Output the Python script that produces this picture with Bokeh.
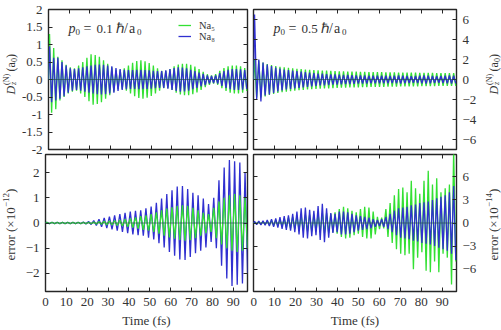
import numpy as np
from bokeh.plotting import figure
from bokeh.models import Range1d, LinearAxis, FixedTicker, Label, Span, Legend, LegendItem, ColumnDataSource
from bokeh.layouts import column, row
from bokeh.embed import file_html
from bokeh.resources import INLINE

# ---------------- data ----------------
x_ticks = [0, 10, 20, 30, 40, 50, 60, 70, 80, 90]
x_tick_labels = ["0", "10", "20", "30", "40", "50", "60", "70", "80", "90"]
x_limits = (0, 96.8)

tl_y_ticks = [2, 1.5, 1, 0.5, 0, -0.5, -1, -1.5, -2]
tl_y_labels = ["2", "1.5", "1", "0.5", "0", "-0.5", "-1", "-1.5", "-2"]
tr_y_ticks = [6, 4, 2, 0, -2, -4, -6]
tr_y_labels = ["6", "4", "2", "0", "\u22122", "\u22124", "\u22126"]
bl_y_ticks = [2, 1, 0, -1, -2]
bl_y_labels = ["2", "1", "0", "\u22121", "\u22122"]
br_y_ticks = [6, 3, 0, -3, -6]
br_y_labels = ["6", "3", "0", "\u22123", "\u22126"]

series_names = ["Na\u2085", "Na\u2088"]
p0_values = ["0.1", "0.5"]

# oscillation period of each panel (fs); one positive peak + one trough per period
tl_period = 2.02
tr_period = 2.02
bl_period = 2.5
br_period = 2.02

# top-left, D_z (a0), p0 = 0.1: peak heights / trough depths per period
tl_na5_pos = [1.30, 0.90, 0.65, 0.55, 0.42, 0.35, 0.32, 0.40, 0.50, 0.62, 0.72, 0.70,
              0.65, 0.55, 0.45, 0.35, 0.28, 0.28, 0.32, 0.40, 0.48, 0.53, 0.55, 0.52,
              0.47, 0.40, 0.32, 0.25, 0.25, 0.30, 0.38, 0.43, 0.45, 0.45, 0.42, 0.37,
              0.30, 0.22, 0.15, 0.12, 0.15, 0.25, 0.33, 0.38, 0.40, 0.40, 0.38, 0.33]
tl_na5_neg = [0.95, 0.85, 0.60, 0.50, 0.40, 0.35, 0.32, 0.40, 0.50, 0.62, 0.72, 0.70,
              0.65, 0.55, 0.45, 0.35, 0.28, 0.28, 0.32, 0.40, 0.48, 0.53, 0.55, 0.52,
              0.47, 0.40, 0.32, 0.25, 0.25, 0.30, 0.38, 0.43, 0.45, 0.45, 0.42, 0.37,
              0.30, 0.22, 0.15, 0.12, 0.15, 0.25, 0.33, 0.38, 0.40, 0.40, 0.38, 0.33]
tl_na8_pos = [0.95, 0.62, 0.62, 0.50, 0.40, 0.32, 0.30, 0.32, 0.35, 0.38, 0.40, 0.42,
              0.43, 0.42, 0.40, 0.38, 0.33, 0.30, 0.28, 0.27, 0.27, 0.28, 0.28, 0.27,
              0.26, 0.25, 0.24, 0.24, 0.26, 0.30, 0.33, 0.35, 0.34, 0.32, 0.28, 0.24,
              0.20, 0.16, 0.12, 0.10, 0.12, 0.18, 0.24, 0.28, 0.30, 0.30, 0.29, 0.27]
tl_na8_neg = [0.65, 0.60, 0.55, 0.48, 0.38, 0.32, 0.30, 0.32, 0.35, 0.38, 0.40, 0.42,
              0.43, 0.42, 0.40, 0.38, 0.33, 0.30, 0.28, 0.27, 0.27, 0.28, 0.28, 0.27,
              0.26, 0.25, 0.24, 0.24, 0.26, 0.30, 0.33, 0.35, 0.34, 0.32, 0.28, 0.24,
              0.20, 0.16, 0.12, 0.10, 0.12, 0.18, 0.24, 0.28, 0.30, 0.30, 0.29, 0.27]

# top-right, D_z (a0), p0 = 0.5
tr_na5_pos = [2.00, 1.90, 1.70, 1.55, 1.45, 1.35, 1.28, 1.22, 1.17, 1.12, 1.08, 1.04,
              1.00, 0.97, 0.94, 0.92, 0.90, 0.88, 0.86, 0.84, 0.82, 0.81, 0.80, 0.79,
              0.78, 0.77, 0.76, 0.75, 0.74, 0.74, 0.73, 0.72, 0.72, 0.71, 0.70, 0.70,
              0.69, 0.68, 0.68, 0.67, 0.67, 0.66, 0.66, 0.65, 0.65, 0.64, 0.64, 0.63]
tr_na5_neg = [1.80, 1.80, 1.70, 1.55, 1.45, 1.35, 1.28, 1.22, 1.17, 1.12, 1.08, 1.04,
              1.00, 0.97, 0.94, 0.92, 0.90, 0.88, 0.86, 0.84, 0.82, 0.81, 0.80, 0.79,
              0.78, 0.77, 0.76, 0.75, 0.74, 0.74, 0.73, 0.72, 0.72, 0.71, 0.70, 0.70,
              0.69, 0.68, 0.68, 0.67, 0.67, 0.66, 0.66, 0.65, 0.65, 0.64, 0.64, 0.63]
tr_na8_pos = [6.50, 2.00, 1.70, 1.50, 1.35, 1.20, 1.10, 1.00, 0.95, 0.90, 0.85, 0.80,
              0.75, 0.70, 0.65, 0.60, 0.58, 0.55, 0.52, 0.50, 0.48, 0.46, 0.45, 0.44,
              0.42, 0.40, 0.40, 0.39, 0.38, 0.38, 0.37, 0.37, 0.36, 0.38, 0.40, 0.38,
              0.35, 0.33, 0.35, 0.38, 0.40, 0.38, 0.35, 0.33, 0.35, 0.38, 0.40, 0.38]
tr_na8_neg = [2.00, 2.20, 1.60, 1.50, 1.35, 1.20, 1.10, 1.00, 0.95, 0.90, 0.85, 0.80,
              0.75, 0.70, 0.65, 0.60, 0.58, 0.55, 0.52, 0.50, 0.48, 0.46, 0.45, 0.44,
              0.42, 0.40, 0.40, 0.39, 0.38, 0.38, 0.37, 0.37, 0.36, 0.38, 0.40, 0.38,
              0.35, 0.33, 0.35, 0.38, 0.40, 0.38, 0.35, 0.33, 0.35, 0.38, 0.40, 0.38]

# bottom-left, error (x1e-12), p0 = 0.1 (symmetric envelope)
bl_na5_amp = [0.03, 0.03, 0.03, 0.03, 0.03, 0.03, 0.03, 0.03, 0.03, 0.04, 0.05, 0.07,
              0.08, 0.10, 0.12, 0.15, 0.18, 0.22, 0.27, 0.30, 0.35, 0.42, 0.50, 0.57,
              0.62, 0.67, 0.70, 0.68, 0.60, 0.50, 0.40, 0.35, 0.60, 0.85, 1.00, 1.10,
              1.15, 1.10, 1.00]
bl_na8_amp = [0.03, 0.03, 0.03, 0.03, 0.03, 0.03, 0.03, 0.04, 0.06, 0.10, 0.15, 0.20,
              0.25, 0.30, 0.35, 0.40, 0.45, 0.48, 0.50, 0.58, 0.65, 0.80, 0.97, 1.15,
              1.30, 1.45, 1.47, 1.35, 1.20, 1.10, 0.97, 0.75, 1.00, 1.70, 2.20, 2.50,
              2.45, 2.40, 2.00]

# bottom-right, error (x1e-14), p0 = 0.5
br_na5_pos = [0.10, 0.15, 0.20, 0.30, 0.35, 0.40, 0.50, 0.60, 0.70, 0.80, 0.90, 1.00,
              1.10, 1.10, 1.10, 1.20, 1.30, 1.30, 1.20, 1.40, 1.80, 2.10, 1.90, 1.60,
              1.40, 1.80, 2.10, 2.00, 1.50, 0.80, 0.70, 1.80, 2.60, 3.60, 4.40, 4.60,
              4.00, 5.50, 4.50, 3.80, 5.50, 6.80, 5.00, 5.80, 4.00, 4.50, 5.00, 9.50]
br_na5_neg = [0.10, 0.15, 0.20, 0.30, 0.35, 0.40, 0.50, 0.60, 0.70, 0.80, 0.90, 1.00,
              1.10, 1.10, 1.10, 1.20, 1.30, 1.30, 1.20, 1.40, 1.80, 2.00, 1.90, 1.60,
              1.40, 1.80, 2.00, 2.00, 1.50, 0.80, 0.70, 1.80, 2.60, 3.40, 4.00, 4.20,
              4.00, 6.00, 4.50, 3.80, 6.20, 6.40, 5.00, 6.40, 4.00, 4.50, 8.00, 5.00]
br_na8_amp = [0.20, 0.25, 0.30, 0.40, 0.50, 0.60, 0.75, 0.90, 1.00, 1.20, 1.50, 1.90,
              2.00, 1.70, 1.60, 2.20, 2.50, 1.90, 1.30, 1.20, 1.50, 1.50, 1.40, 1.20,
              1.00, 0.90, 0.80, 0.70, 0.50, 0.40, 0.50, 0.80, 1.20, 1.60, 1.90, 2.00,
              2.10, 2.30, 2.40, 2.60, 2.70, 2.80, 3.00, 3.20, 3.40, 3.60, 4.00, 4.80]

# ---------------- styling ----------------
GREEN = "#33e033"
BLUE = "#3030d0"
ZERO = "#1d4a4a"
FRAME = "#262626"
TXT = "#333333"
SERIF = "Liberation Serif"
TICK_FS = "13px"


def build_series(period, pos, neg):
    t, y = [0.0], [0.0]
    for i, (a, b) in enumerate(zip(pos, neg)):
        t += [i * period + 0.25 * period, i * period + 0.75 * period]
        y += [a, -b]
    return ColumnDataSource(dict(t=t, y=y))


def make_panel(width, height, borders, ylim):
    left, right, top, bottom = borders
    p = figure(width=width, height=height, x_range=Range1d(*x_limits), y_range=Range1d(*ylim),
               output_backend="svg", toolbar_location=None, x_axis_location=None,
               y_axis_location=None, min_border_left=left, min_border_right=right,
               min_border_top=top, min_border_bottom=bottom)
    p.xgrid.grid_line_color = None
    p.ygrid.grid_line_color = None
    p.outline_line_color = FRAME
    p.outline_line_width = 1.4
    p.background_fill_color = "white"
    p.border_fill_color = "white"
    return p


def add_axis(p, side, ticks, labels=None, fixed=None):
    ax = LinearAxis(ticker=FixedTicker(ticks=ticks), axis_line_color=None,
                    major_tick_in=4, major_tick_out=0, major_tick_line_color=FRAME,
                    major_tick_line_width=1, minor_tick_line_color=None)
    if labels is not None:
        ax.major_label_overrides = {t: l for t, l in zip(ticks, labels)}
        ax.major_label_text_font = SERIF
        ax.major_label_text_font_size = TICK_FS
        ax.major_label_text_color = TXT
        ax.major_label_standoff = 6
    else:
        ax.fixed_location = fixed
        ax.major_label_text_color = None
        ax.major_label_standoff = 0
    p.add_layout(ax, side)
    return ax


def lab(p, x, y, text, size, italic=False, angle=0.0, align="left", baseline="alphabetic"):
    p.add_layout(Label(x=x, y=y, x_units="screen", y_units="screen", text=text,
                       text_font=SERIF, text_font_size=size, text_color=TXT,
                       text_font_style="italic" if italic else "normal", angle=angle,
                       text_align=align, text_baseline=baseline))


def d_title(p, x, y0):
    a = np.pi / 2
    lab(p, x, y0, "D", "12px", True, a, "left", "middle")
    lab(p, x + 3, y0 + 9.5, "z", "8px", True, a, "left", "middle")
    lab(p, x - 4.5, y0 + 9.5, "(N)", "8px", False, a, "left", "middle")
    lab(p, x, y0 + 23, "(a", "12px", False, a, "left", "middle")
    lab(p, x + 3, y0 + 32.5, "0", "8px", False, a, "left", "middle")
    lab(p, x, y0 + 36.5, ")", "12px", False, a, "left", "middle")


def err_title(p, x, y0, expo):
    a = np.pi / 2
    lab(p, x, y0, "error (\u00d710", "13px", False, a, "left", "middle")
    lab(p, x - 4.5, y0 + 53.5, expo, "9px", False, a, "left", "middle")
    lab(p, x, y0 + 67.5, ")", "13px", False, a, "left", "middle")


def p0_label(p, val, base):
    lab(p, 20, base, "p", "14px", True)
    lab(p, 27, base - 3, "0", "9px")
    lab(p, 35, base, "=", "14px")
    lab(p, 48, base, val, "13px")
    lab(p, 67.5, base, "\u210f", "14px")
    lab(p, 75.5, base, "/", "14px")
    lab(p, 80.5, base, "a", "14px")
    lab(p, 88.5, base - 3, "0", "9px")


def zero_line(p):
    p.add_layout(Span(location=0, dimension="width", line_color=ZERO, line_width=0.8, line_alpha=0.8))


def title_strip():
    s = figure(width=18, height=330, x_range=Range1d(0, 1), y_range=Range1d(0, 1),
               output_backend="svg", toolbar_location=None, x_axis_location=None,
               y_axis_location=None, min_border=0)
    s.xgrid.grid_line_color = None
    s.ygrid.grid_line_color = None
    s.outline_line_color = None
    return s


# ---------------- panels ----------------
# top row is 4px taller than its frames need; the bottom row is pulled up over that margin
tl = make_panel(232, 157, (27, 3, 9, 8), (-2, 2))
tr = make_panel(233, 157, (3, 27, 9, 8), (-7, 7))
bl = make_panel(232, 177, (27, 3, 1, 34), (-2.72, 2.72))
br = make_panel(233, 177, (3, 27, 1, 34), (-8.9, 8.9))
bl.border_fill_alpha = 0
br.border_fill_alpha = 0

# top-left
add_axis(tl, "left", tl_y_ticks, tl_y_labels)
add_axis(tl, "right", tl_y_ticks, fixed=x_limits[1])
add_axis(tl, "below", x_ticks, fixed=-2)
add_axis(tl, "above", x_ticks, fixed=2)
g = tl.line("t", "y", source=build_series(tl_period, tl_na5_pos, tl_na5_neg), line_color=GREEN, line_width=1.3)
b = tl.line("t", "y", source=build_series(tl_period, tl_na8_pos, tl_na8_neg), line_color=BLUE, line_width=1.3)
zero_line(tl)
p0_label(tl, p0_values[0], 121)
for item_r, name, yy in [(g, series_names[0], 118.5), (b, series_names[1], 107.5)]:
    lg = Legend(items=[LegendItem(label=name, renderers=[item_r])], location=(130, yy),
                glyph_width=13, glyph_height=8, label_height=8, label_standoff=8, padding=0,
                margin=0, spacing=0, border_line_color=None, background_fill_alpha=0,
                label_text_font=SERIF, label_text_font_size="10.5px", label_text_color=TXT)
    tl.add_layout(lg)

# top-right
add_axis(tr, "left", tr_y_ticks, fixed=x_limits[0])
add_axis(tr, "right", tr_y_ticks, tr_y_labels)
add_axis(tr, "below", x_ticks, fixed=-7)
add_axis(tr, "above", x_ticks, fixed=7)
tr.line("t", "y", source=build_series(tr_period, tr_na5_pos, tr_na5_neg), line_color=GREEN, line_width=1.3)
tr.line("t", "y", source=build_series(tr_period, tr_na8_pos, tr_na8_neg), line_color=BLUE, line_width=1.3)
zero_line(tr)
p0_label(tr, p0_values[1], 121)

# bottom-left
add_axis(bl, "left", bl_y_ticks, bl_y_labels)
add_axis(bl, "right", bl_y_ticks, fixed=x_limits[1])
xb1 = add_axis(bl, "below", x_ticks, x_tick_labels)
add_axis(bl, "above", x_ticks, fixed=2.72)
bl.line("t", "y", source=build_series(bl_period, bl_na8_amp, bl_na8_amp), line_color=BLUE, line_width=1.3)
bl.line("t", "y", source=build_series(bl_period, bl_na5_amp, bl_na5_amp), line_color=GREEN, line_width=1.3)
zero_line(bl)

# bottom-right
add_axis(br, "left", br_y_ticks, fixed=x_limits[0])
add_axis(br, "right", br_y_ticks, br_y_labels)
xb2 = add_axis(br, "below", x_ticks, x_tick_labels)
add_axis(br, "above", x_ticks, fixed=8.9)
br.line("t", "y", source=build_series(br_period, br_na5_pos, br_na5_neg), line_color=GREEN, line_width=1.3)
br.line("t", "y", source=build_series(br_period, br_na8_amp, br_na8_amp), line_color=BLUE, line_width=1.3)
zero_line(br)

for ax in (xb1, xb2):
    ax.axis_label = "Time (fs)"
    ax.axis_label_text_font = SERIF
    ax.axis_label_text_font_size = "13px"
    ax.axis_label_text_font_style = "normal"
    ax.axis_label_text_color = TXT
    ax.axis_label_standoff = 4

# axis titles in narrow strips at the far left / right
left_strip = title_strip()
right_strip = title_strip()
d_title(left_strip, 10, 236)
err_title(left_strip, 10, 70, "\u221212")
d_title(right_strip, 10, 236)
err_title(right_strip, 10, 70, "\u221214")

bottom_row = row(bl, br)
bottom_row.styles = {"margin-top": "-4px"}
layout = row(left_strip, column(row(tl, tr), bottom_row), right_strip)
open("out.html", "w").write(file_html(layout, INLINE))
